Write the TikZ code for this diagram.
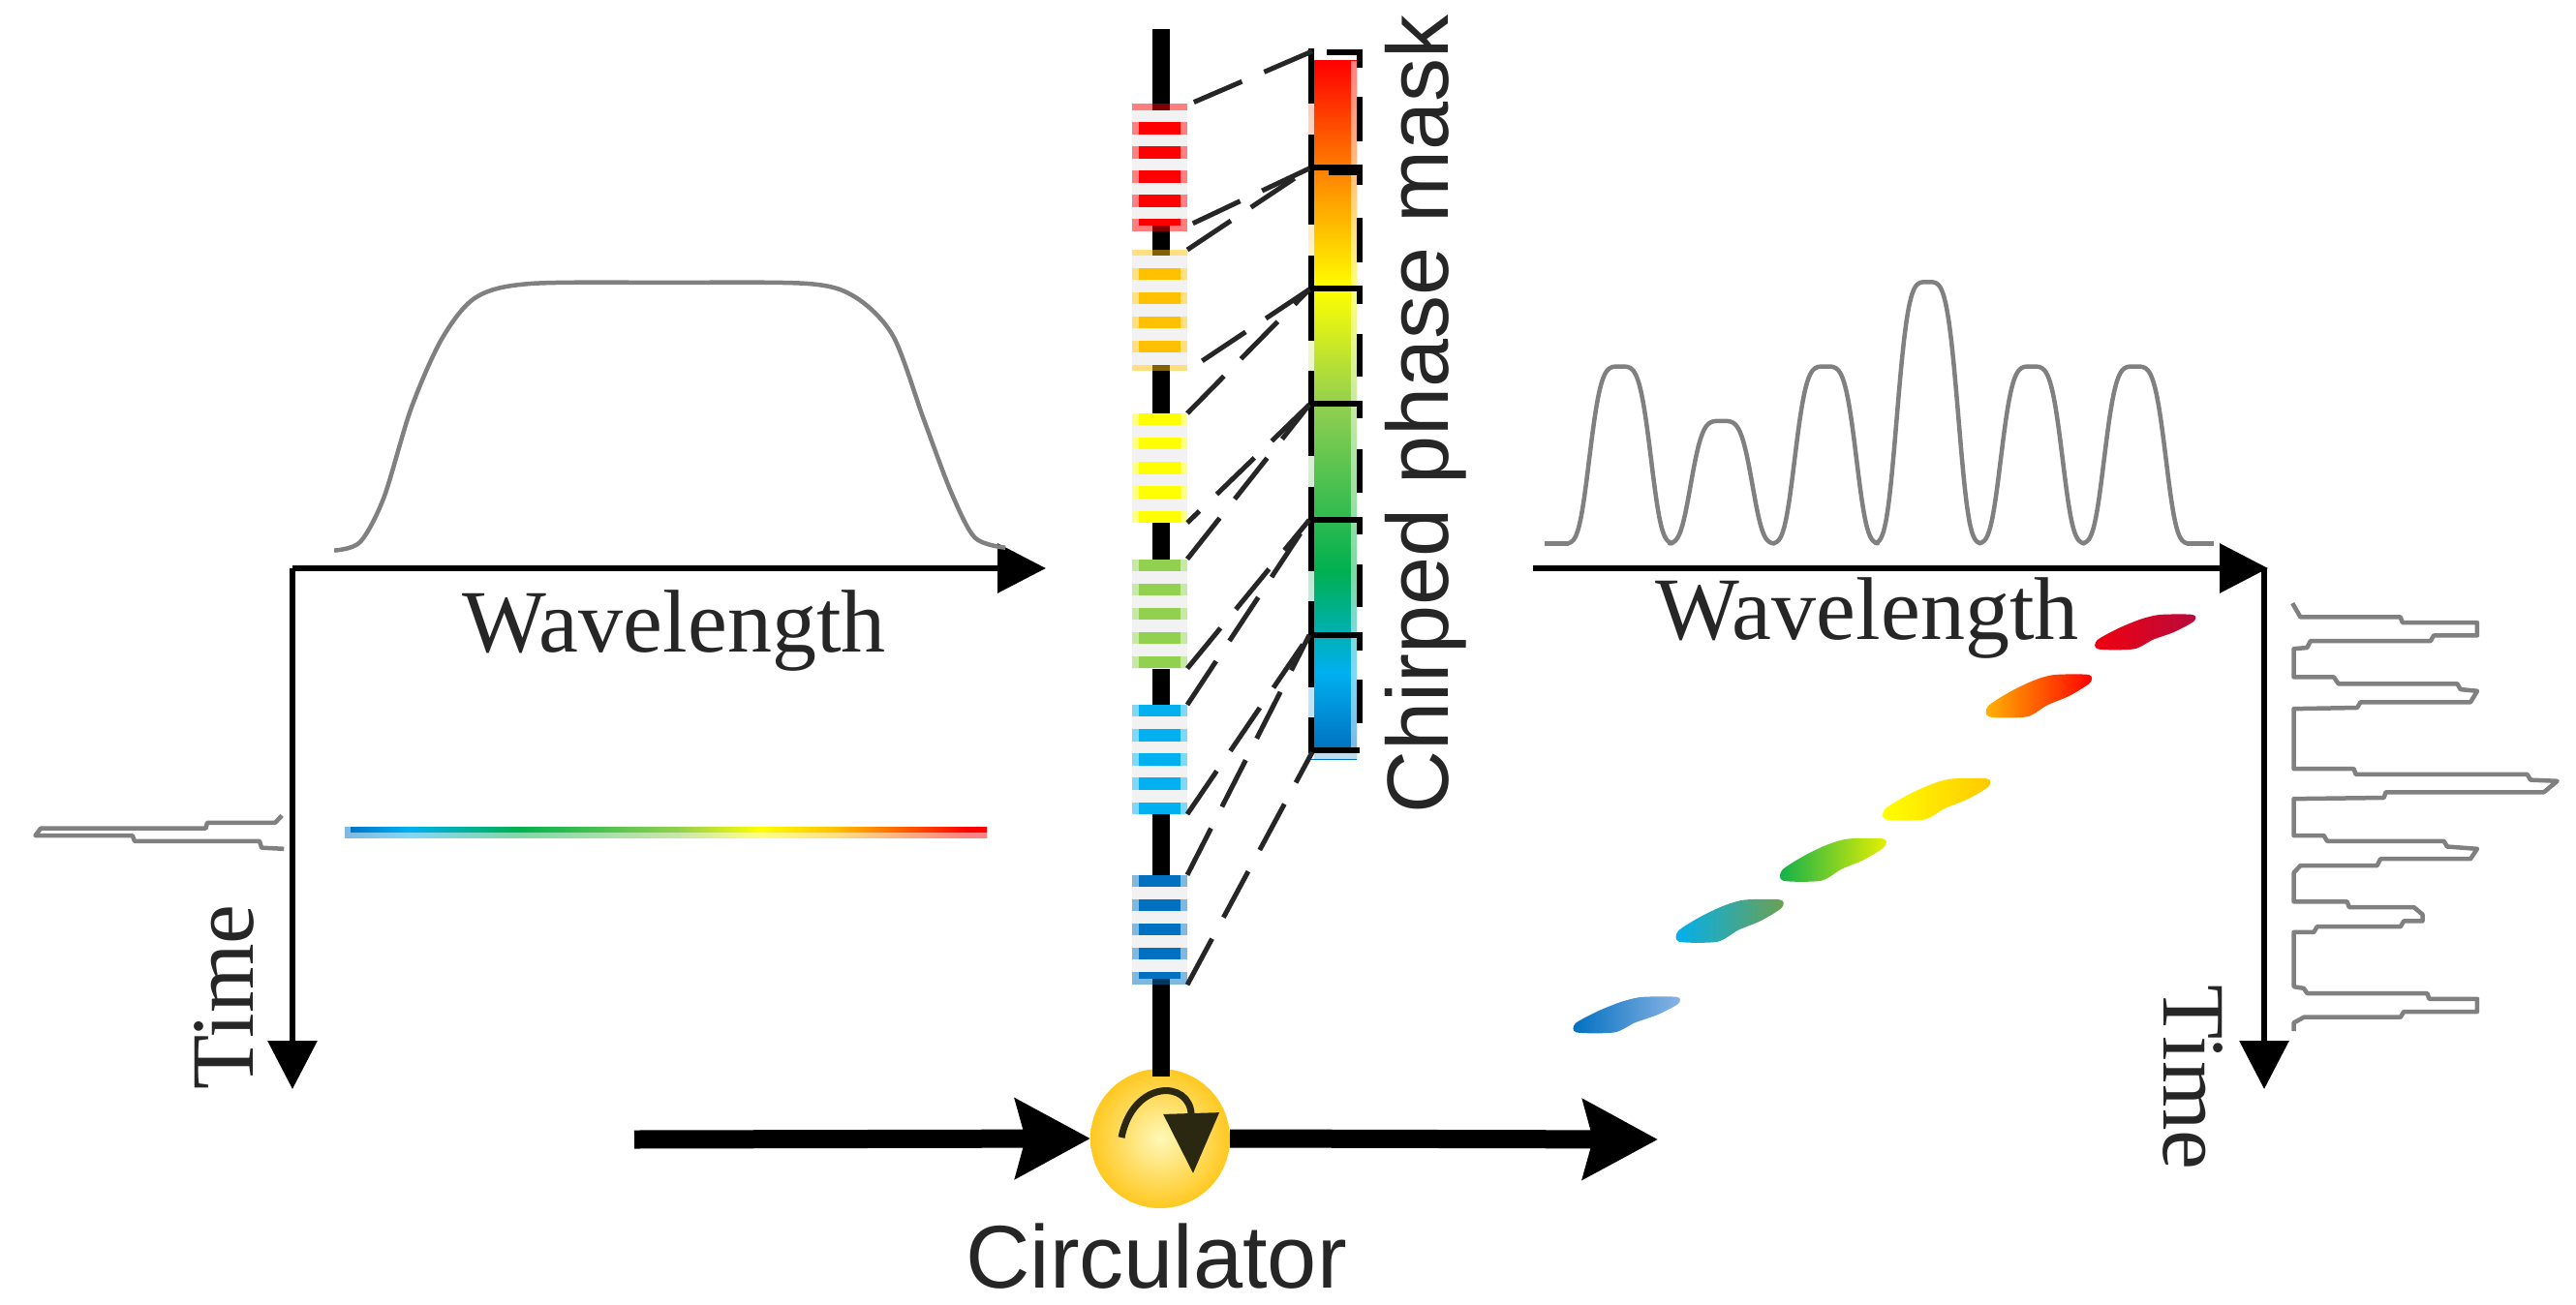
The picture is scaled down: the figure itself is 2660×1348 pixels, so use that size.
\documentclass[tikz,border=0pt]{standalone}
\usepackage{fontspec}
\newfontfamily\arialf{Liberation Sans}
\newfontfamily\timesf{Liberation Serif}
\usetikzlibrary{arrows.meta,shadings}
\definecolor{cred}{HTML}{FF0000}
\definecolor{corange}{HTML}{FFC000}
\definecolor{cyellow}{HTML}{FFFF00}
\definecolor{cgreen}{HTML}{92D050}
\definecolor{cdgreen}{HTML}{00B050}
\definecolor{cblue}{HTML}{00B0F0}
\definecolor{cdblue}{HTML}{0070C0}
\definecolor{cmid}{HTML}{FF9000}
\definecolor{gratebg}{HTML}{F2F2F2}
\definecolor{tracegray}{HTML}{808080}
\definecolor{txt}{HTML}{262626}
\definecolor{circin}{HTML}{FFF8B8}
\definecolor{circout}{HTML}{FFC820}
\definecolor{circarrow}{HTML}{2A2810}
\pgfdeclareverticalshading{maskgrad}{100bp}{
  color(0bp)=(cdblue); color(25.6bp)=(cdblue); color(31.2bp)=(cblue);
  color(38.45bp)=(cdgreen); color(50.45bp)=(cgreen); color(58.7bp)=(cyellow);
  color(66.2bp)=(cmid); color(75bp)=(cred); color(100bp)=(cred)}
\pgfdeclarehorizontalshading{barshade}{100bp}{
  color(0bp)=(cdblue); color(25bp)=(cdblue); color(30bp)=(cblue);
  color(38.4bp)=(cdgreen); color(51bp)=(cgreen); color(57.4bp)=(cyellow);
  color(63.2bp)=(corange); color(73.5bp)=(cred); color(100bp)=(cred)}
\tikzset{
  fibre/.style={line width=18pt,draw=black},
  axisline/.style={line width=6.5pt,-{Triangle[length=50pt,width=50pt]}},
  bigarrow/.style={line width=19pt,-{Stealth[length=77pt,width=81pt,inset=10pt]}},
  trace/.style={draw=tracegray,line width=4.5pt,line join=round},
  grate/.style={draw=none,fill=gratebg,minimum width=57pt,inner sep=0pt,outer sep=0pt,rectangle},
  maskline/.style={line width=6pt,draw=black},
  guide/.style={line width=5pt,draw=black!85,dash pattern=on 54pt off 25pt},
  sanstext/.style={text=txt,inner sep=0pt,font=\arialf\fontsize{92}{100}\selectfont},
  masktext/.style={text=txt,inner sep=0pt,font=\arialf\fontsize{90}{100}\selectfont},
  seriftext/.style={text=txt,inner sep=0pt,font=\timesf\fontsize{92}{100}\selectfont},
  zoomfour/.style={shift={(1580,250)},x=0.6887pt,y=-0.574pt},
  zoomfive/.style={shift={(0,250)},x=0.7015pt,y=-0.574pt}
}
\newcommand{\gstripe}[3]{%
  \fill[#3!50!white] (1169,#1) rectangle (1226,#2);
  \fill[#3] (1176,#1) rectangle (1219,#2);}
\newcommand{\ghalf}[3]{%
  \fill[white] (1169,#1) rectangle (1226,#2);
  \fill[black] (1190,#1) rectangle (1208,#2);
  \fill[#3,opacity=.5] (1169,#1) rectangle (1226,#2);}
\newcommand{\streakshape}[6]{%
  \begin{scope}[shift={(#1,#2)},x=#3pt,y=-#4pt]
  \path[left color=#5,right color=#6] plot[smooth cycle,tension=.45] coordinates
    {(.01,.99)(0,.74)(.22,.4)(.45,.14)(.65,.01)(.99,.01)(1,.2)(.8,.5)(.58,.72)(.38,.99)};
  \end{scope}}
\begin{document}
\begin{tikzpicture}[x=1pt,y=-1pt]
\useasboundingbox (0,0) rectangle (2660,1348);
\fill[white] (0,0) rectangle (2660,1348);

% anchors
\coordinate (fibtop) at (1199,30);
\coordinate (m0) at (1355,53);
\coordinate (m1) at (1352,174);
\coordinate (m2) at (1352,299);
\coordinate (m3) at (1352,418);
\coordinate (m4) at (1352,537);
\coordinate (m5) at (1352,656);
\coordinate (m6) at (1355,777);

% circulator
\node[circle,minimum size=144pt,inner sep=0pt,outer sep=0pt,inner color=circin,outer color=circout] (circ) at (1198,1176) {};
\coordinate (fibbot) at (1199,1112);
\draw[fibre] (fibtop) -- (fibbot);
\coordinate (inport) at (655,1177);
\coordinate (outport) at (1712,1177);
\draw[bigarrow] (inport) -- (circ.west);
\draw[bigarrow] (circ.east) -- (outport);
\coordinate (ca) at (1158,1175);
\coordinate (cb) at (1232,1212);
\draw[circarrow,line width=7pt,-{Triangle[length=62pt,width=56pt]}] (ca) .. controls (1170,1115) and (1229,1115) .. (cb);

% gratings
\node[grate,minimum height=125pt] (gr1) at (1197.5,171) {};
\node[grate,minimum height=125pt] (gr2) at (1197.5,320.5) {};
\node[grate,minimum height=113pt] (gr3) at (1197.5,483.5) {};
\node[grate,minimum height=113pt] (gr4) at (1197.5,634) {};
\node[grate,minimum height=113pt] (gr5) at (1197.5,784.5) {};
\node[grate,minimum height=113.5pt] (gr6) at (1197.5,960.5) {};
\foreach \a/\b in {126/138.6,151/163.6,176/189,201/214,226/233} {\gstripe{\a}{\b}{cred}}
\ghalf{107}{113.6}{cred}\ghalf{233}{238.6}{cred}
\foreach \a/\b in {277/288.6,302/313.6,327/339,352/364} {\gstripe{\a}{\b}{corange}}
\ghalf{258}{263.6}{corange}\ghalf{377}{383}{corange}
\foreach \a/\b in {427/439,452/464,477/490,502/515,527.5/540} {\gstripe{\a}{\b}{cyellow}}
\foreach \a/\b in {577.5/590,603/615,628/640,653/665,678/690} {\gstripe{\a}{\b}{cgreen}}
\foreach \a/\b in {728/740,753/766,778/791,803/816,828.6/841} {\gstripe{\a}{\b}{cblue}}
\foreach \a/\b in {903.6/916,929/941.4,954/966,979/991,1004/1011} {\gstripe{\a}{\b}{cdblue}}
\ghalf{1011}{1017}{cdblue}

% phase mask
\path[shading=maskgrad] (1351,63) rectangle (1401,784);
\fill[white,opacity=.75] (1351,63) rectangle (1357,784);
\fill[white,opacity=.5] (1395,63) rectangle (1401,776);
\fill[white,opacity=.75] (1351,776) rectangle (1401,784);
\foreach \a/\b in {50/107,138.6/232,264/352,383/471,502.5/590,621/710,741/778} {\draw[maskline] (1354,\a) -- (1354,\b);}
\foreach \a/\b in {52/70,100/146,175/191,225/271,300/314,345/389,416/432,464/509,536/552,583/627,654/672,702/747} {\draw[maskline] (1404,\a) -- (1404,\b);}
\draw[maskline] (1370,54) -- (1407,54);
\foreach \a in {173,298,417,537,656} {\draw[maskline] (1351,\a) -- (1407,\a);}
\draw[maskline] (1351,775) -- (1404,775);
\fill[black] (1372,173) rectangle (1401,181);

% guide lines
\draw[guide] (m0) -- (gr1.north east);
\draw[guide] (m1) -- (gr1.south east);
\draw[guide] (gr2.north east) -- (m1);
\draw[guide] (m2) -- (gr2.south east);
\draw[guide] (gr3.north east) -- (m2);
\draw[guide] (m3) -- (gr3.south east);
\draw[guide] (gr4.north east) -- (m3);
\draw[guide] (gr4.south east) -- (m4);
\draw[guide] (gr5.north east) -- (m4);
\draw[guide] (gr5.south east) -- (m5);
\draw[guide] (gr6.north east) -- (m5);
\draw[guide] (gr6.south east) -- (m6);

% left axes
\coordinate (lcorner) at (302,587);
\coordinate (lxend) at (1080,587);
\coordinate (lyend) at (302,1125);
\draw[axisline] (lcorner) -- (lxend);
\draw[axisline] (lcorner) -- (lyend);
\node[seriftext,anchor=base] (lwave) at (696,673) {Wavelength};
\node[seriftext,anchor=base,rotate=90] (ltime) at (261,1030) {Time};

% right axes
\coordinate (rstart) at (1583,587);
\coordinate (rcorner) at (2338,587);
\coordinate (rxend) at (2342,587);
\coordinate (ryend) at (2338,1125);
\draw[axisline] (rstart) -- (rxend);
\draw[axisline] (rcorner) -- (ryend);
\node[seriftext,anchor=base] (rwave) at (1928,660) {Wavelength};
\node[seriftext,anchor=base,rotate=-90] (rtime) at (2234,1113) {Time};

% labels
\node[masktext,anchor=base,rotate=90] (masklabel) at (1495,428) {Chirped phase mask};
\node[sanstext,anchor=base] (circlabel) at (1194,1330) {Circulator};

% rainbow bar
\path[shading=barshade] (356,854) rectangle (1019,865);
\fill[white,opacity=.5] (356,860) rectangle (1019,865.5);
\fill[white,opacity=.5] (356,854) rectangle (362,860);

% traces
\begin{scope}[zoomfive]
\draw[trace] plot[smooth,tension=.5] coordinates {(492,555)(530,540)(565,460)(605,300)(650,175)(700,100)(780,75)(985,73)(1190,75)(1260,100)(1315,170)(1360,320)(1400,450)(1435,532)(1480,550)};
\draw[trace] (415,1032) -- (405,1045) -- (305,1045) -- (303,1055) -- (60,1055) -- (52,1068) -- (195,1068) -- (198,1078) -- (382,1078) -- (385,1090) -- (418,1092);
\end{scope}
\begin{scope}[zoomfour]
\coordinate (sa) at (22,543);
\coordinate (sb) at (58,543);
\coordinate (sc) at (984,543);
\coordinate (sd) at (1025,543);
\draw[trace] (sa) -- (sb);
\draw[trace] (sc) -- (sd);
\foreach \c/\h in {135/319,287/221,443/319,596/471,752/319,907/319} {
  \draw[trace,line cap=round] plot[smooth,samples=41,domain=-78:78] ({\c+\x},{543-\h*exp(-(abs(\x)/50)^4)});
}
\draw[trace] (1143,650) -- (1155,675) -- (1305,675) -- (1308,685) -- (1420,685) -- (1420,708) -- (1355,708) -- (1350,718) -- (1170,718) -- (1165,730) -- (1145,732) -- (1145,783) -- (1205,783) -- (1212,795) -- (1390,795) -- (1395,805) -- (1420,808) -- (1410,828) -- (1245,828) -- (1240,838) -- (1145,840) -- (1145,948) -- (1235,948) -- (1238,958) -- (1495,958) -- (1500,968) -- (1540,970) -- (1520,990) -- (1283,990) -- (1280,1000) -- (1145,1002) -- (1145,1068) -- (1190,1068) -- (1195,1078) -- (1370,1078) -- (1375,1088) -- (1420,1092) -- (1410,1110) -- (1275,1110) -- (1270,1122) -- (1155,1122) -- (1145,1135) -- (1145,1187) -- (1225,1187) -- (1228,1197) -- (1325,1197) -- (1338,1210) -- (1338,1222) -- (1310,1222) -- (1305,1232) -- (1180,1232) -- (1175,1242) -- (1145,1242) -- (1145,1340) -- (1160,1343) -- (1165,1352) -- (1345,1352) -- (1348,1362) -- (1420,1362) -- (1420,1385) -- (1310,1385) -- (1305,1395) -- (1160,1395) -- (1145,1405) -- (1145,1420);
\end{scope}

% streaks
\definecolor{sa}{HTML}{F00010}\definecolor{sb}{HTML}{B80B3C}
\definecolor{sc}{HTML}{FFB400}\definecolor{sd}{HTML}{FF0000}
\definecolor{se}{HTML}{FFFF00}\definecolor{sf}{HTML}{FFC800}
\definecolor{sg}{HTML}{10B04C}\definecolor{sh}{HTML}{E8F000}
\definecolor{si}{HTML}{00B0F0}\definecolor{sj}{HTML}{6EA050}
\definecolor{sk}{HTML}{0070C0}\definecolor{sl}{HTML}{8CB4E4}
\streakshape{2165.4}{634.6}{99.9}{36.2}{sa}{sb}
\streakshape{2053}{696.6}{105}{44.2}{sc}{sd}
\streakshape{1946.4}{804}{106.7}{43}{se}{sf}
\streakshape{1840.3}{866}{105.4}{44.2}{sg}{sh}
\streakshape{1732.9}{929}{106.7}{44.2}{si}{sj}
\streakshape{1626.8}{1029.5}{106}{37.3}{sk}{sl}
\end{tikzpicture}
\end{document}
